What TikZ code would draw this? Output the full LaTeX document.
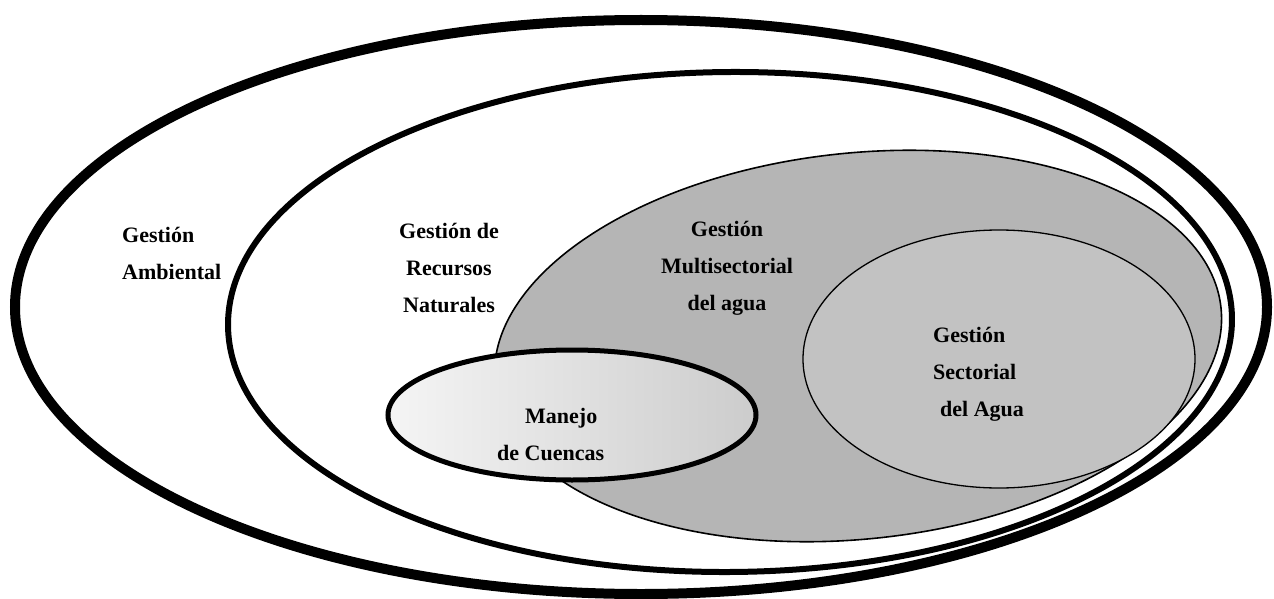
\documentclass[tikz,border=0pt]{standalone}
\usepackage{fontspec}
\setmainfont{Liberation Serif}
\begin{document}
\begin{tikzpicture}[x=1pt,y=-1pt,
  ring/.style={draw=black},
  lbl/.style={font=\fontsize{22}{37}\selectfont\bfseries, inner sep=0pt}]
\useasboundingbox (0,0) rectangle (1274,599);

% nested management domains
\draw[ring, line width=10pt]
  (641,307) ellipse [x radius=626pt, y radius=287pt];
\draw[ring, line width=6pt, rotate around={0.4:(730,322)}]
  (730,322) ellipse [x radius=502pt, y radius=250pt];
\draw[ring, line width=1.6pt, fill=black!29, rotate around={6:(858,346)}]
  (858,346) ellipse [x radius=365pt, y radius=193pt];
\draw[ring, line width=1.3pt, fill=black!24]
  (999,359) ellipse [x radius=196pt, y radius=129pt];
\draw[ring, line width=5pt, left color=black!4, right color=black!20]
  (572,415) ellipse [x radius=184pt, y radius=65pt];

% labels
\node[lbl, align=left, anchor=north west] (amb) at (122,227) {Gestión\\Ambiental};
\node[lbl, align=center, anchor=north] (rn) at (449,223) {Gestión de\\Recursos\\Naturales};
\node[lbl, align=center, anchor=north] (multi) at (727,221) {Gestión\\Multisectorial\\del agua};
\node[lbl, align=left, anchor=north west] (sect) at (933,327) {Gestión\\Sectorial\\\hspace{7pt}del Agua};
\node[lbl, align=left, anchor=north west] (cuen) at (497,408) {\hspace{28pt}Manejo\\de Cuencas};
\end{tikzpicture}
\end{document}
